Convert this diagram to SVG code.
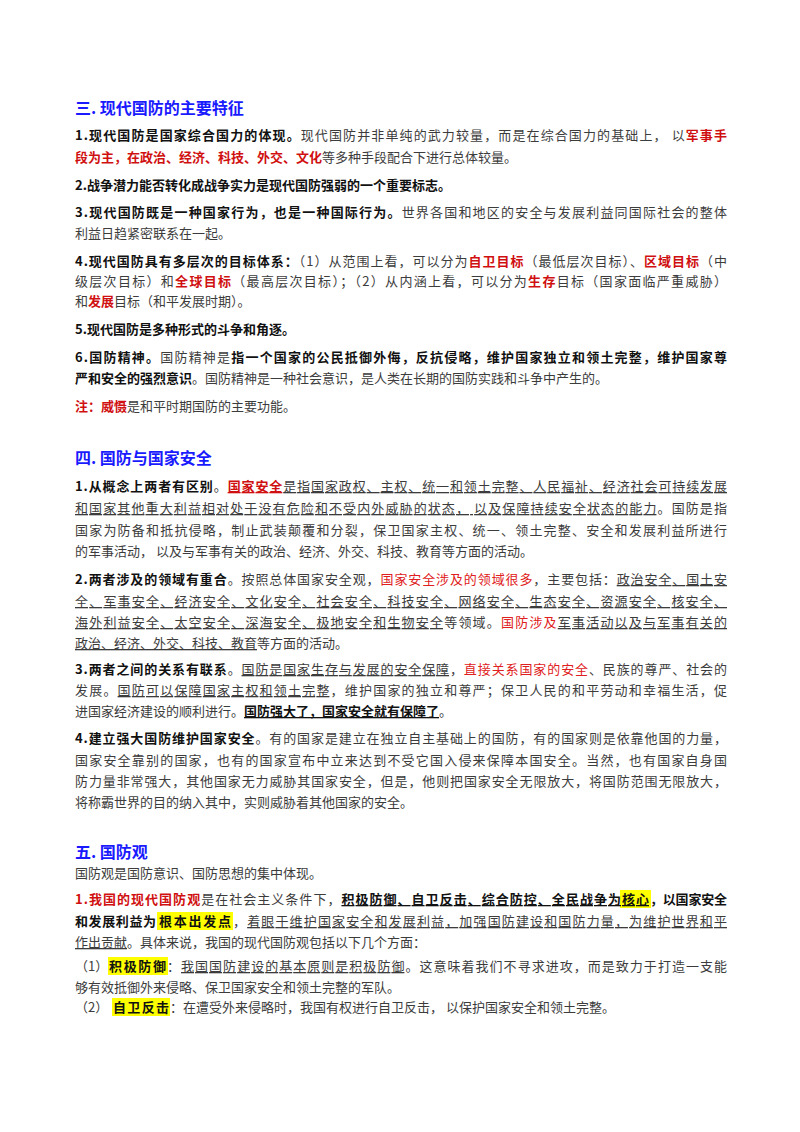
<svg xmlns="http://www.w3.org/2000/svg" width="800" height="1132" viewBox="0 0 800 1132">
<style>
text{font-family:"Noto Sans CJK SC","Liberation Sans",sans-serif;font-size:13px;fill:#3c3c3c}
.h{font-size:16px;font-weight:bold;fill:#1a1aff}
.k{font-weight:bold;fill:#111}
.r{fill:#e02020}
.rb{font-weight:bold;fill:#d01010}
.u{text-decoration:underline}
.hl{fill:#ffff00}
</style>
<rect width="800" height="1132" fill="#fff"/>
<g id="sec3">
<text class="h" x="75" y="114">三. 现代国防的主要特征</text>
<text x="75" y="140" textLength="652" lengthAdjust="spacing"><tspan class="k">1.现代国防是国家综合国力的体现。</tspan>现代国防并非单纯的武力较量，而是在综合国力的基础上， 以<tspan class="rb">军事手</tspan></text>
<text x="75" y="162"><tspan class="rb">段为主，在政治、经济、科技、外交、文化</tspan>等多种手段配合下进行总体较量。</text>
<text x="75" y="190" class="k">2.战争潜力能否转化成战争实力是现代国防强弱的一个重要标志。</text>
<text x="75" y="217" textLength="652" lengthAdjust="spacing"><tspan class="k">3.现代国防既是一种国家行为，也是一种国际行为。</tspan>世界各国和地区的安全与发展利益同国际社会的整体</text>
<text x="75" y="238">利益日趋紧密联系在一起。</text>
<text x="75" y="266" textLength="652" lengthAdjust="spacing"><tspan class="k">4.现代国防具有多层次的目标体系：</tspan>（1）从范围上看，可以分为<tspan class="rb">自卫目标</tspan>（最低层次目标）、<tspan class="rb">区域目标</tspan>（中</text>
<text x="75" y="286" textLength="652" lengthAdjust="spacing">级层次目标）和<tspan class="rb">全球目标</tspan>（最高层次目标）；（2）从内涵上看，可以分为<tspan class="rb">生存</tspan>目标（国家面临严重威胁）</text>
<text x="75" y="306">和<tspan class="rb">发展</tspan>目标（和平发展时期）。</text>
<text x="75" y="334" class="k">5.现代国防是多种形式的斗争和角逐。</text>
<text x="75" y="362" textLength="652" lengthAdjust="spacing"><tspan class="k">6.国防精神。</tspan>国防精神是<tspan class="k">指一个国家的公民抵御外侮，反抗侵略，维护国家独立和领土完整，维护国家尊</tspan></text>
<text x="75" y="383"><tspan class="k">严和安全的强烈意识</tspan>。国防精神是一种社会意识，是人类在长期的国防实践和斗争中产生的。</text>
<text x="75" y="411"><tspan class="rb">注：威慑</tspan>是和平时期国防的主要功能。</text>
</g>
<g id="sec4">
<text class="h" x="75" y="464">四. 国防与国家安全</text>
<text x="75" y="491" textLength="652" lengthAdjust="spacing"><tspan class="k">1.从概念上两者有区别</tspan>。<tspan class="rb u">国家安全</tspan><tspan class="u">是指国家政权、主权、统一和领土完整、人民福祉、经济社会可持续发展</tspan></text>
<text x="75" y="513" textLength="652" lengthAdjust="spacing"><tspan class="u">和国家其他重大利益相对处于没有危险和不受内外威胁的状态， 以及保障持续安全状态的能力</tspan>。国防是指</text>
<text x="75" y="535" textLength="652" lengthAdjust="spacing">国家为防备和抵抗侵略，制止武装颠覆和分裂，保卫国家主权、统一、领土完整、安全和发展利益所进行</text>
<text x="75" y="556">的军事活动， 以及与军事有关的政治、经济、外交、科技、教育等方面的活动。</text>
<text x="75" y="584" textLength="652" lengthAdjust="spacing"><tspan class="k">2.两者涉及的领域有重合</tspan>。按照总体国家安全观，<tspan class="r">国家安全涉及的领域很多</tspan>，主要包括：<tspan class="u">政治安全、国土安</tspan></text>
<text x="75" y="606" textLength="652" lengthAdjust="spacing" class="u">全、军事安全、经济安全、文化安全、社会安全、科技安全、网络安全、生态安全、资源安全、核安全、</text>
<text x="75" y="627" textLength="652" lengthAdjust="spacing"><tspan class="u">海外利益安全、太空安全、深海安全、极地安全和生物安全</tspan>等领域。<tspan class="r">国防涉及</tspan><tspan class="u">军事活动以及与军事有关的</tspan></text>
<text x="75" y="648"><tspan class="u">政治、经济、外交、科技、教育</tspan>等方面的活动。</text>
<text x="75" y="674" textLength="652" lengthAdjust="spacing"><tspan class="k">3.两者之间的关系有联系</tspan>。<tspan class="u">国防是国家生存与发展的安全保障</tspan>，<tspan class="r">直接关系国家的安全</tspan>、民族的尊严、社会的</text>
<text x="75" y="695" textLength="652" lengthAdjust="spacing">发展。<tspan class="u">国防可以保障国家主权和领土完整</tspan>，维护国家的独立和尊严；保卫人民的和平劳动和幸福生活，促</text>
<text x="75" y="716">进国家经济建设的顺利进行。<tspan class="k u">国防强大了，国家安全就有保障了</tspan>。</text>
<text x="75" y="743" textLength="652" lengthAdjust="spacing"><tspan class="k">4.建立强大国防维护国家安全</tspan>。有的国家是建立在独立自主基础上的国防，有的国家则是依靠他国的力量，</text>
<text x="75" y="765" textLength="652" lengthAdjust="spacing">国家安全靠别的国家，也有的国家宣布中立来达到不受它国入侵来保障本国安全。当然，也有国家自身国</text>
<text x="75" y="786" textLength="652" lengthAdjust="spacing">防力量非常强大，其他国家无力威胁其国家安全，但是，他则把国家安全无限放大，将国防范围无限放大，</text>
<text x="75" y="807">将称霸世界的目的纳入其中，实则威胁着其他国家的安全。</text>
</g>
<g id="sec5">
<text class="h" x="75" y="858">五. 国防观</text>
<text x="75" y="878">国防观是国防意识、国防思想的集中体现。</text>
<rect class="hl" x="620" y="890" width="31" height="18"/>
<rect class="hl" x="157" y="912" width="76" height="18"/>
<rect class="hl" x="108" y="957" width="60" height="18"/>
<rect class="hl" x="112" y="998" width="58" height="18"/>
<text x="75" y="904" textLength="546" lengthAdjust="spacing"><tspan class="rb">1.我国的现代国防观</tspan>是在社会主义条件下，<tspan class="k u">积极防御、自卫反击、综合防控、全民战争为</tspan></text>
<text x="622" y="904" textLength="27" lengthAdjust="spacing" class="k u">核心</text>
<text x="650" y="904" textLength="77" lengthAdjust="spacing" class="k">，以国家安全</text>
<text x="75" y="926" textLength="81" lengthAdjust="spacing" class="k">和发展利益为</text>
<text x="159" y="926" textLength="72" lengthAdjust="spacing" class="k">根本出发点</text>
<text x="233" y="926" textLength="494" lengthAdjust="spacing">，<tspan class="u">着眼于维护国家安全和发展利益，加强国防建设和国防力量，为维护世界和平</tspan></text>
<text x="75" y="947"><tspan class="u">作出贡献</tspan>。具体来说，我国的现代国防观包括以下几个方面：</text>
<text x="75" y="971">（1）</text>
<text x="109" y="971" textLength="57" lengthAdjust="spacing" class="k">积极防御</text>
<text x="167" y="971" textLength="560" lengthAdjust="spacing">：<tspan class="u">我国国防建设的基本原则是积极防御</tspan>。这意味着我们不寻求进攻，而是致力于打造一支能</text>
<text x="75" y="992">够有效抵御外来侵略、保卫国家安全和领土完整的军队。</text>
<text x="75" y="1012">（2）</text>
<text x="113" y="1012" textLength="56" lengthAdjust="spacing" class="k">自卫反击</text>
<text x="170" y="1012">：在遭受外来侵略时，我国有权进行自卫反击， 以保护国家安全和领土完整。</text>
</g>
</svg>
